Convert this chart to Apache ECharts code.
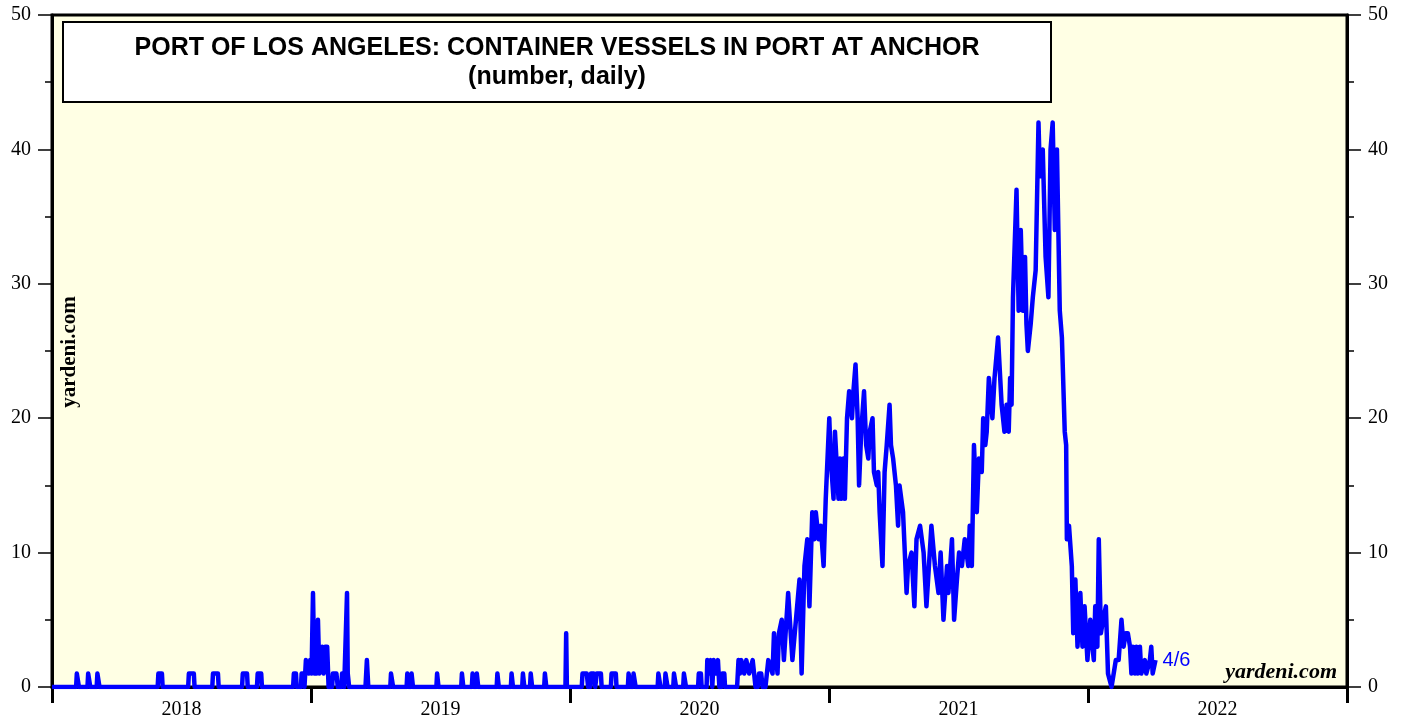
<!DOCTYPE html>
<html>
<head>
<meta charset="utf-8">
<script src="https://cdn.jsdelivr.net/npm/echarts@6/dist/echarts.min.js"></script>
<style>
html,body{margin:0;padding:0;background:#fff;}
#chart{width:1408px;height:721px;}
</style>
</head>
<body>
<div id="chart"></div>
<script>
const titleLine1 = 'PORT OF LOS ANGELES: CONTAINER VESSELS IN PORT AT ANCHOR';
const titleLine2 = '(number, daily)';
const yearLabels = ['2018', '2019', '2020', '2021', '2022'];
const yTicks = [0, 10, 20, 30, 40, 50];
const lastLabel = '4/6';

const dates = [
'2018-01-01','2018-02-04','2018-02-05','2018-02-07','2018-02-08','2018-02-20','2018-02-21','2018-02-23','2018-02-24',
'2018-03-05','2018-03-06','2018-03-08','2018-03-09','2018-05-30','2018-05-31','2018-06-05','2018-06-06',
'2018-07-12','2018-07-13','2018-07-20','2018-07-21','2018-08-15','2018-08-16','2018-08-23','2018-08-24',
'2018-09-26','2018-09-27','2018-10-03','2018-10-04','2018-10-17','2018-10-18','2018-10-23','2018-10-24',
'2018-12-07','2018-12-08','2018-12-11','2018-12-12','2018-12-18','2018-12-19','2018-12-22','2018-12-23',
'2018-12-25','2018-12-27','2018-12-29','2018-12-31',
'2019-01-02','2019-01-04','2019-01-06','2019-01-09','2019-01-11','2019-01-13','2019-01-15','2019-01-17',
'2019-01-19','2019-01-21','2019-01-24','2019-01-26','2019-01-31','2019-02-01','2019-02-06','2019-02-08',
'2019-02-13','2019-02-14','2019-02-16','2019-02-17','2019-02-19','2019-02-21','2019-02-22','2019-02-24',
'2019-03-19','2019-03-21','2019-03-23','2019-04-23','2019-04-24','2019-04-26','2019-04-27',
'2019-05-16','2019-05-17','2019-05-18','2019-05-19','2019-05-22','2019-05-23','2019-05-24','2019-05-25',
'2019-06-27','2019-06-28','2019-06-29','2019-06-30','2019-08-01','2019-08-02','2019-08-03','2019-08-04',
'2019-08-16','2019-08-17','2019-08-18','2019-08-19','2019-08-22','2019-08-23','2019-08-24','2019-08-25',
'2019-09-20','2019-09-21','2019-09-22','2019-09-23','2019-10-10','2019-10-11','2019-10-12','2019-10-13',
'2019-10-26','2019-10-27','2019-10-28','2019-10-29','2019-11-06','2019-11-07','2019-11-08','2019-11-09',
'2019-11-26','2019-11-27','2019-11-28','2019-11-29','2019-12-26','2019-12-27','2019-12-28',
'2020-01-18','2020-01-19','2020-01-25','2020-01-27','2020-01-30','2020-01-31','2020-02-04','2020-02-06',
'2020-02-08','2020-02-14','2020-02-15','2020-02-28','2020-02-29','2020-03-06','2020-03-07',
'2020-03-23','2020-03-24','2020-03-26','2020-03-27','2020-03-30','2020-03-31','2020-04-02','2020-04-03',
'2020-05-04','2020-05-05','2020-05-07','2020-05-08','2020-05-14','2020-05-15','2020-05-17','2020-05-18',
'2020-05-26','2020-05-27','2020-05-29','2020-05-30','2020-06-09','2020-06-10','2020-06-12','2020-06-13',
'2020-06-30','2020-07-01','2020-07-04','2020-07-05','2020-07-12','2020-07-13','2020-07-16','2020-07-18',
'2020-07-20','2020-07-22','2020-07-25','2020-07-28','2020-07-30','2020-08-02','2020-08-03','2020-08-06',
'2020-08-07','2020-08-24','2020-08-26','2020-08-28','2020-08-30','2020-09-01','2020-09-03','2020-09-06',
'2020-09-08','2020-09-10','2020-09-12','2020-09-15','2020-09-17','2020-09-19','2020-09-22','2020-09-24',
'2020-09-27','2020-09-29','2020-10-03','2020-10-07','2020-10-13','2020-10-15','2020-10-20','2020-10-22',
'2020-10-26','2020-10-29','2020-11-04','2020-11-10','2020-11-15','2020-11-20','2020-11-23','2020-11-27',
'2020-12-01','2020-12-04','2020-12-08','2020-12-11','2020-12-13','2020-12-17','2020-12-20','2020-12-24',
'2020-12-27',
'2021-01-01','2021-01-03','2021-01-07','2021-01-09','2021-01-14','2021-01-16','2021-01-18','2021-01-21',
'2021-01-23','2021-01-26','2021-01-29','2021-02-02','2021-02-04','2021-02-07','2021-02-10','2021-02-12',
'2021-02-15','2021-02-19','2021-02-22','2021-02-25','2021-02-27','2021-03-03','2021-03-05','2021-03-09',
'2021-03-11','2021-03-13','2021-03-17','2021-03-20','2021-03-23','2021-03-27','2021-03-29','2021-04-01',
'2021-04-05','2021-04-08','2021-04-10','2021-04-15','2021-04-20','2021-04-22','2021-04-27','2021-05-01',
'2021-05-04','2021-05-09','2021-05-14','2021-05-18','2021-05-25','2021-05-30','2021-06-04','2021-06-07',
'2021-06-11','2021-06-16','2021-06-18','2021-06-23','2021-06-26','2021-06-30','2021-07-03','2021-07-07',
'2021-07-11','2021-07-16','2021-07-18','2021-07-21','2021-07-24','2021-07-28','2021-07-31','2021-08-04',
'2021-08-06','2021-08-09','2021-08-11','2021-08-14','2021-08-19','2021-08-22','2021-08-27','2021-09-01',
'2021-09-05','2021-09-08','2021-09-11','2021-09-13','2021-09-15','2021-09-17','2021-09-22','2021-09-25',
'2021-09-28','2021-10-01','2021-10-04','2021-10-06','2021-10-08','2021-10-12','2021-10-15','2021-10-19',
'2021-10-23','2021-10-25','2021-10-29','2021-11-02','2021-11-06','2021-11-09','2021-11-12','2021-11-15',
'2021-11-18','2021-11-20','2021-11-22','2021-11-25','2021-11-29','2021-12-01','2021-12-02','2021-12-05',
'2021-12-09','2021-12-11','2021-12-14','2021-12-17','2021-12-21','2021-12-24','2021-12-27','2021-12-31',
'2022-01-04','2022-01-07','2022-01-09','2022-01-11','2022-01-14','2022-01-16','2022-01-19','2022-01-22',
'2022-01-26','2022-01-29','2022-02-03','2022-02-06','2022-02-09','2022-02-13','2022-02-17','2022-02-20',
'2022-02-23','2022-02-26','2022-03-01','2022-03-03','2022-03-05','2022-03-08','2022-03-10','2022-03-12',
'2022-03-15','2022-03-17','2022-03-22','2022-03-24','2022-03-29','2022-03-31','2022-04-02','2022-04-06'
];

const vessels = [
0,0,1,1,0,0,1,1,0,
0,1,1,0,0,1,1,0,
0,1,1,0,0,1,1,0,
0,1,1,0,0,1,1,0,
0,1,1,0,0,1,1,0,
2,2,1,2,
1,7,1,1,5,1,1,3,
1,3,3,0,0,1,1,0,
0,1,1,0,0,7,1,0,
0,2,0,0,1,1,0,
0,1,1,0,0,1,1,0,
0,1,1,0,0,1,1,0,
0,1,1,0,0,1,1,0,
0,1,1,0,0,1,1,0,
0,1,1,0,0,1,1,0,
0,1,1,0,0,4,0,
0,1,1,0,0,1,1,0,
1,1,0,0,1,1,0,
0,1,1,0,0,1,1,0,
0,1,1,0,0,1,1,0,
0,1,1,0,0,1,1,0,
0,1,1,0,0,2,1,2,
0,2,1,2,0,0,1,1,
0,0,2,1,2,2,1,2,
2,1,1,2,2,0,0,1,
1,0,0,2,1,4,1,4,
5,2,7,2,5,8,1,9,
11,6,13,11,13,11,12,9,
14,
20,17,14,19,14,17,14,17,
14,20,22,20,22,24,20,15,
19,22,18,17,19,20,16,15,
16,13,9,16,18,21,18,17,
15,12,15,13,7,9,10,6,
11,12,10,6,12,9,7,10,
5,9,7,11,5,8,10,9,
11,9,12,9,18,13,17,16,
20,18,19,23,20,23,26,21,
19,21,19,23,21,29,37,28,
34,28,32,27,25,27,29,31,
42,38,40,32,29,40,42,34,
40,34,28,26,19,18,11,12,
9,4,8,3,7,3,6,2,
5,3,2,6,3,11,4,5,
6,1,0,1,2,2,5,3,
4,4,3,1,3,1,3,1,
3,1,2,1,2,3,1,2
];

const seriesData = dates.map((d, i) => [d, vessels[i]]);

const chart = echarts.init(document.getElementById('chart'), null, {renderer: 'canvas'});

const serif = 'Liberation Serif, Times New Roman, serif';
const sans = 'Liberation Sans, Arial, sans-serif';

function yAxisDef(pos) {
  return {
    type: 'value',
    position: pos,
    min: yTicks[0],
    max: yTicks[yTicks.length - 1],
    interval: 10,
    axisLine: {show: true, lineStyle: {color: '#000', width: 3}},
    axisTick: {show: true, inside: false, length: 14, lineStyle: {color: '#000', width: 1.5}},
    minorTick: {show: true, splitNumber: 2, length: 7, lineStyle: {color: '#000', width: 1.5}},
    splitLine: {show: false},
    axisLabel: {color: '#000', fontFamily: serif, fontSize: 20, margin: 21}
  };
}

const option = {
  animation: false,
  backgroundColor: '#ffffff',
  grid: {
    left: 52, right: 61, top: 15, bottom: 34,
    show: true, backgroundColor: '#FFFFE4', borderColor: '#000', borderWidth: 3
  },
  xAxis: [
    {
      type: 'time',
      min: new Date(2018, 0, 1).getTime(),
      max: new Date(2023, 0, 1).getTime(),
      show: false
    },
    {
      type: 'category',
      data: yearLabels,
      boundaryGap: true,
      position: 'bottom',
      axisLine: {show: true, lineStyle: {color: '#000', width: 3}},
      axisTick: {show: true, length: 16, alignWithLabel: false, lineStyle: {color: '#000', width: 3}},
      axisLabel: {color: '#000', fontFamily: serif, fontSize: 20, margin: 13},
      splitLine: {show: false}
    }
  ],
  yAxis: [yAxisDef('left'), yAxisDef('right')],
  series: [{
    type: 'line',
    xAxisIndex: 0,
    yAxisIndex: 0,
    data: seriesData,
    showSymbol: false,
    symbol: 'none',
    lineStyle: {color: '#0000FF', width: 4.5, join: 'round'},
    itemStyle: {color: '#0000FF'},
    z: 3,
    endLabel: {
      show: true,
      formatter: lastLabel,
      color: '#0000FF',
      fontFamily: sans,
      fontSize: 20,
      distance: 7
    }
  }],
  graphic: [
    {
      type: 'rect', z: 100,
      shape: {x: 63, y: 22, width: 988, height: 80},
      style: {fill: '#ffffff', stroke: '#000', lineWidth: 2}
    },
    {
      type: 'text', z: 101, x: 557, y: 48,
      style: {text: titleLine1, fill: '#000', font: 'bold 25px ' + sans, textAlign: 'center', textVerticalAlign: 'middle'}
    },
    {
      type: 'text', z: 101, x: 557, y: 77,
      style: {text: titleLine2, fill: '#000', font: 'bold 25px ' + sans, textAlign: 'center', textVerticalAlign: 'middle'}
    },
    {
      type: 'text', z: 101, x: 1337, y: 672,
      style: {text: 'yardeni.com', fill: '#000', font: 'italic bold 22px ' + serif, textAlign: 'right', textVerticalAlign: 'middle'}
    },
    {
      type: 'text', z: 101, x: 70, y: 352, rotation: Math.PI / 2,
      style: {text: 'yardeni.com', fill: '#000', font: 'bold 21px ' + serif, textAlign: 'center', textVerticalAlign: 'middle'}
    }
  ]
};

chart.setOption(option);
</script>
</body>
</html>
